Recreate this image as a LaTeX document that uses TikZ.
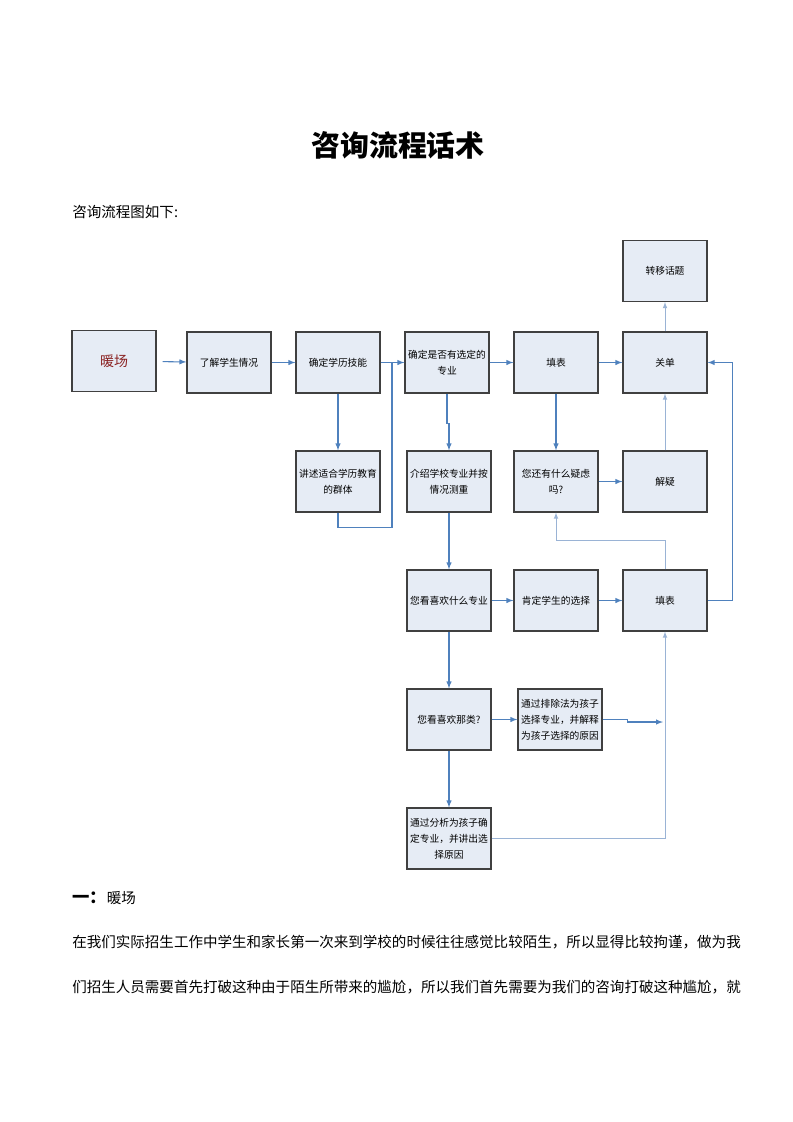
\documentclass[tikz,border=0pt]{standalone}
\usepackage{fontspec}
\setmainfont{Noto Sans CJK SC}
\usetikzlibrary{arrows}
\definecolor{boxfill}{HTML}{E6ECF5}
\definecolor{linkblue}{HTML}{4F81BD}
\definecolor{linklight}{HTML}{9AB3D5}
\definecolor{warmred}{HTML}{8B2323}
\tikzstyle{stage} = [rectangle, minimum width=63pt, minimum height=45.75pt, text centered, align=center, draw=black!75, line width=0.9pt, fill=boxfill, inner sep=2pt, font=\fontsize{7.3}{12}\selectfont]
\tikzstyle{arrow} = [thick,->,>=latex,draw=linkblue]
\tikzstyle{link} = [thick,draw=linkblue]
\tikzstyle{faint} = [semithick,->,>=latex,draw=linklight]
\tikzstyle{bodytext} = [anchor=west, inner sep=0pt, font=\fontsize{10.9}{13}\selectfont]

\begin{document}
\begin{tikzpicture}[x=0.75pt, y=-0.75pt, node distance=81.75pt]
\useasboundingbox (0,0) rectangle (793,1122);

% Title and heading
\node (title) [inner sep=0pt, font=\fontsize{21.7}{24}\selectfont\bfseries] at (398,145) {咨询流程话术};
\node (intro text) [bodytext] at (72,212) {咨询流程图如下:};

% First row nodes
\node (warm) [stage, font=\fontsize{10.5}{12}\selectfont, text=warmred] at (114,361) {暖场};
\node (know) [stage] at (229,362.5) {了解学生情况};
\node (edu) [stage, right of=know] {确定学历技能};
\node (major) [stage, right of=edu] {确定是否有选定的\\专业};
\node (form1) [stage, right of=major] {填表};
\node (close) [stage, right of=form1] {关单};
\node (topic) [stage, above of=close, yshift=-13.1pt] {转移话题};

% Second row nodes
\node (group) [stage, below of=edu, yshift=-7.5pt] {讲述适合学历教育\\的群体};
\node (intro) [stage, below of=major, yshift=-7.5pt, xshift=1.5pt] {介绍学校专业并按\\情况测重};
\node (doubt) [stage, below of=form1, yshift=-7.5pt] {您还有什么疑虑\\吗?};
\node (solve) [stage, below of=close, yshift=-7.5pt] {解疑};

% Third row nodes
\node (like) [stage, below of=intro, yshift=-7.5pt] {您看喜欢什么专业};
\node (affirm) [stage, below of=doubt, yshift=-7.5pt] {肯定学生的选择};
\node (form2) [stage, below of=solve, yshift=-7.5pt] {填表};

% Fourth and fifth row nodes
\node (kind) [stage, below of=like, yshift=-7.5pt] {您看喜欢那类?};
\node (elim) [stage, right of=kind, xshift=1.5pt] {通过排除法为孩子\\选择专业，并解释\\为孩子选择的原因};
\node (analysis) [stage, below of=kind, yshift=-7.5pt] {通过分析为孩子确\\定专业，并讲出选\\择原因};

% Helper points
\coordinate (joinA) at (392,362.5);
\coordinate (mergeA) at (663,722);

% Drawing arrows
\draw [arrow, shorten <=4.5pt] (warm) -- (know);
\draw [arrow] (know) -- (edu);
\draw [arrow] (edu) -- (major);
\draw [arrow] (major) -- (form1);
\draw [arrow] (form1) -- (close);
\draw [faint] (close) -- (topic);
\draw [arrow] (edu) -- (group);
\draw [link] (group.south) -- ++(0,15) -| (joinA);
\draw [arrow] (major.south) -- ++(0,30) -| (intro.north);
\draw [arrow] (form1) -- (doubt);
\draw [arrow] (doubt) -- (solve);
\draw [faint] (solve) -- (close);
\draw [arrow] (intro) -- (like);
\draw [arrow] (like) -- (affirm);
\draw [arrow] (affirm) -- (form2);
\draw [arrow] (form2.east) -- ++(25,0) |- (close.east);
\draw [faint] (form2.north) -- ++(0,-29) -| (doubt.south);
\draw [arrow] (like) -- (kind);
\draw [arrow] (kind) -- (elim);
\draw [arrow] (elim.east) -- ++(25,0) |- (mergeA);
\draw [arrow] (kind) -- (analysis);
\draw [faint] (analysis.east) -| (form2.south);

% Text below the chart
\node (part one) [bodytext] at (72,898) {{\fontsize{13}{13}\selectfont\bfseries 一：}暖场};
\node (line one) [bodytext] at (72,942) {在我们实际招生工作中学生和家长第一次来到学校的时候往往感觉比较陌生，所以显得比较拘谨，做为我};
\node (line two) [bodytext] at (72,987) {们招生人员需要首先打破这种由于陌生所带来的尴尬，所以我们首先需要为我们的咨询打破这种尴尬，就};

\end{tikzpicture}
\end{document}
